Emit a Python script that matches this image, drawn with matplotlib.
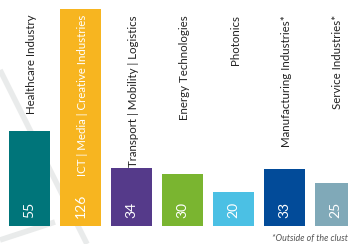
import matplotlib
matplotlib.use("Agg")
import matplotlib.pyplot as plt

categories = ["Healthcare Industry", "ICT | Media | Creative Industries",
              "Transport | Mobility | Logistics", "Energy Technologies",
              "Photonics", "Manufacturing Industries*", "Service Industries*"]
values = [55, 126, 34, 30, 20, 33, 25]
colors = ["#00757a", "#f7b520", "#553a8a", "#7ab530", "#4bc0e4", "#024b99", "#80a9b8"]
label_inside = [False, True, False, False, False, False, False]
footnote = "*Outside of the clust"  # as visible in the reference (cut at the edge)

plt.rcParams['font.family'] = ['Lato', 'DejaVu Sans']

W, H = 348, 244
fig = plt.figure(figsize=(W / 100, H / 100), dpi=100)
ax = fig.add_axes([0, 0, 1, 1])

# pixel geometry
first_c, step, bw_px, base_px, ppu = 29.5, 51.0, 41.0, 226.0, 1.72
x0 = -first_c / step
x1 = (W - first_c) / step
ax.set_xlim(x0, x1)
ax.set_ylim(-(H - base_px) / ppu, base_px / ppu)
ax.axis("off")

# decorative faint background lines (in pixel-based figure coords)
def px(x, y):
    return x / W, 1 - y / H
for (a, b) in [((0, 70), (87, 244)), ((0, 240), (55, 222))]:
    p, q = px(*a), px(*b)
    fig.add_artist(plt.Line2D([p[0], q[0]], [p[1], q[1]], color="#e9ebeb",
                              lw=4, zorder=0, solid_capstyle="butt"))

xs = list(range(len(categories)))
ax.bar(xs, values, width=bw_px / step, color=colors, zorder=2)

label_top = (base_px - 15) / ppu
for x, v, c, inside in zip(xs, values, categories, label_inside):
    ax.text(x + 0.03, label_top, c, rotation=90, ha="center", va="top",
            fontsize=8.3, color="white" if inside else "#222222", zorder=3)
    ax.text(x, 8 / ppu, str(v), rotation=90, ha="center", va="bottom",
            fontsize=10, color="white", zorder=3)

fig.text(347.5 / W, 1 - 238 / H, footnote, ha="right", va="center",
         fontsize=6.4, style="italic", color="#555555")

fig.savefig("out.png", dpi=100)
